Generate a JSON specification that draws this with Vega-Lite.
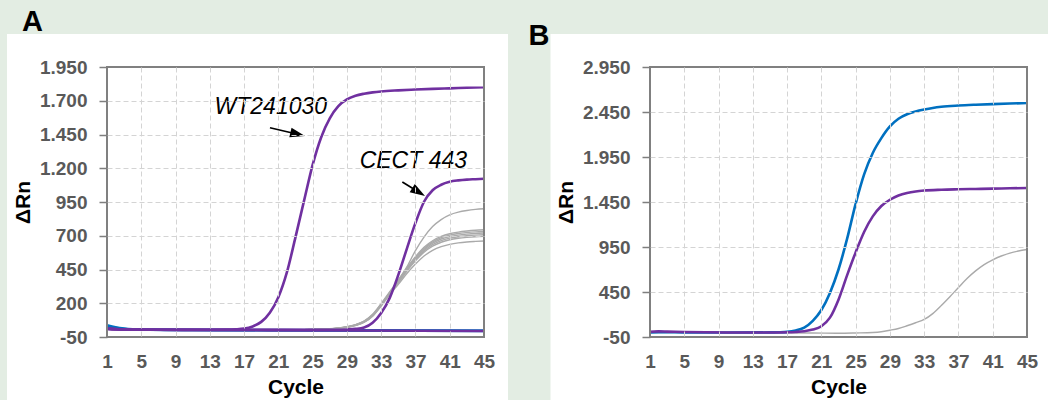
{
"$schema": "https://vega.github.io/schema/vega-lite/v6.json",
"background": "#e3ede3",
"padding": {"left": 7, "top": 7, "right": 0, "bottom": 0},
"spacing": 20,
"config": {
  "view": {"stroke": null},
  "font": "Liberation Sans"
},
"datasets": {
  "curvesA": [
    {"curve":"WT241030","group":"reference","cycle":1,"value":12},{"curve":"WT241030","group":"reference","cycle":2,"value":8},{"curve":"WT241030","group":"reference","cycle":3,"value":6},{"curve":"WT241030","group":"reference","cycle":5,"value":5},{"curve":"WT241030","group":"reference","cycle":9,"value":4},{"curve":"WT241030","group":"reference","cycle":13,"value":4},{"curve":"WT241030","group":"reference","cycle":15,"value":5},{"curve":"WT241030","group":"reference","cycle":16,"value":7},{"curve":"WT241030","group":"reference","cycle":17,"value":12},{"curve":"WT241030","group":"reference","cycle":18,"value":28},{"curve":"WT241030","group":"reference","cycle":19,"value":62},{"curve":"WT241030","group":"reference","cycle":20,"value":130},{"curve":"WT241030","group":"reference","cycle":21,"value":245},{"curve":"WT241030","group":"reference","cycle":22,"value":430},{"curve":"WT241030","group":"reference","cycle":23,"value":690},{"curve":"WT241030","group":"reference","cycle":24,"value":960},{"curve":"WT241030","group":"reference","cycle":25,"value":1225},{"curve":"WT241030","group":"reference","cycle":26,"value":1430},{"curve":"WT241030","group":"reference","cycle":27,"value":1570},{"curve":"WT241030","group":"reference","cycle":28,"value":1660},{"curve":"WT241030","group":"reference","cycle":29,"value":1710},{"curve":"WT241030","group":"reference","cycle":30,"value":1737},{"curve":"WT241030","group":"reference","cycle":31,"value":1752},{"curve":"WT241030","group":"reference","cycle":32,"value":1762},{"curve":"WT241030","group":"reference","cycle":33,"value":1769},{"curve":"WT241030","group":"reference","cycle":35,"value":1777},{"curve":"WT241030","group":"reference","cycle":37,"value":1783},{"curve":"WT241030","group":"reference","cycle":39,"value":1788},{"curve":"WT241030","group":"reference","cycle":41,"value":1792},{"curve":"WT241030","group":"reference","cycle":43,"value":1796},{"curve":"WT241030","group":"reference","cycle":45,"value":1800},
    {"curve":"CECT 443","group":"reference","cycle":1,"value":10},{"curve":"CECT 443","group":"reference","cycle":2,"value":6},{"curve":"CECT 443","group":"reference","cycle":5,"value":4},{"curve":"CECT 443","group":"reference","cycle":10,"value":3},{"curve":"CECT 443","group":"reference","cycle":15,"value":3},{"curve":"CECT 443","group":"reference","cycle":20,"value":3},{"curve":"CECT 443","group":"reference","cycle":25,"value":3},{"curve":"CECT 443","group":"reference","cycle":28,"value":4},{"curve":"CECT 443","group":"reference","cycle":29,"value":6},{"curve":"CECT 443","group":"reference","cycle":30,"value":10},{"curve":"CECT 443","group":"reference","cycle":31,"value":20},{"curve":"CECT 443","group":"reference","cycle":32,"value":55},{"curve":"CECT 443","group":"reference","cycle":33,"value":128},{"curve":"CECT 443","group":"reference","cycle":34,"value":240},{"curve":"CECT 443","group":"reference","cycle":35,"value":410},{"curve":"CECT 443","group":"reference","cycle":36,"value":605},{"curve":"CECT 443","group":"reference","cycle":37,"value":795},{"curve":"CECT 443","group":"reference","cycle":38,"value":952},{"curve":"CECT 443","group":"reference","cycle":39,"value":1037},{"curve":"CECT 443","group":"reference","cycle":40,"value":1078},{"curve":"CECT 443","group":"reference","cycle":41,"value":1100},{"curve":"CECT 443","group":"reference","cycle":42,"value":1110},{"curve":"CECT 443","group":"reference","cycle":43,"value":1116},{"curve":"CECT 443","group":"reference","cycle":44,"value":1119},{"curve":"CECT 443","group":"reference","cycle":45,"value":1122},
    {"curve":"NTC","group":"reference","cycle":1,"value":12},{"curve":"NTC","group":"reference","cycle":2,"value":8},{"curve":"NTC","group":"reference","cycle":3,"value":5},{"curve":"NTC","group":"reference","cycle":10,"value":3},{"curve":"NTC","group":"reference","cycle":20,"value":1},{"curve":"NTC","group":"reference","cycle":30,"value":-2},{"curve":"NTC","group":"reference","cycle":45,"value":-6},
    {"curve":"Control 1","group":"control","cycle":1,"value":38},{"curve":"Control 1","group":"control","cycle":2,"value":22},{"curve":"Control 1","group":"control","cycle":3,"value":12},{"curve":"Control 1","group":"control","cycle":4,"value":7},{"curve":"Control 1","group":"control","cycle":6,"value":4},{"curve":"Control 1","group":"control","cycle":10,"value":2},{"curve":"Control 1","group":"control","cycle":20,"value":0},{"curve":"Control 1","group":"control","cycle":30,"value":-2},{"curve":"Control 1","group":"control","cycle":45,"value":-5},
    {"curve":"Control 2","group":"control","cycle":1,"value":28},{"curve":"Control 2","group":"control","cycle":2,"value":16},{"curve":"Control 2","group":"control","cycle":3,"value":9},{"curve":"Control 2","group":"control","cycle":5,"value":5},{"curve":"Control 2","group":"control","cycle":10,"value":3},{"curve":"Control 2","group":"control","cycle":20,"value":1},{"curve":"Control 2","group":"control","cycle":30,"value":-1},{"curve":"Control 2","group":"control","cycle":45,"value":-4},
    {"curve":"Isolate 1","group":"sample","cycle":1,"value":8},{"curve":"Isolate 1","group":"sample","cycle":3,"value":6},{"curve":"Isolate 1","group":"sample","cycle":5,"value":5},{"curve":"Isolate 1","group":"sample","cycle":10,"value":4},{"curve":"Isolate 1","group":"sample","cycle":15,"value":4},{"curve":"Isolate 1","group":"sample","cycle":20,"value":4},{"curve":"Isolate 1","group":"sample","cycle":24,"value":5},{"curve":"Isolate 1","group":"sample","cycle":26,"value":7},{"curve":"Isolate 1","group":"sample","cycle":27,"value":10},{"curve":"Isolate 1","group":"sample","cycle":28,"value":16},{"curve":"Isolate 1","group":"sample","cycle":29,"value":24},{"curve":"Isolate 1","group":"sample","cycle":30,"value":40},{"curve":"Isolate 1","group":"sample","cycle":31,"value":66},{"curve":"Isolate 1","group":"sample","cycle":32,"value":113},{"curve":"Isolate 1","group":"sample","cycle":33,"value":192},{"curve":"Isolate 1","group":"sample","cycle":34,"value":280},{"curve":"Isolate 1","group":"sample","cycle":35,"value":370},{"curve":"Isolate 1","group":"sample","cycle":36,"value":470},{"curve":"Isolate 1","group":"sample","cycle":37,"value":590},{"curve":"Isolate 1","group":"sample","cycle":38,"value":690},{"curve":"Isolate 1","group":"sample","cycle":39,"value":768},{"curve":"Isolate 1","group":"sample","cycle":40,"value":820},{"curve":"Isolate 1","group":"sample","cycle":41,"value":855},{"curve":"Isolate 1","group":"sample","cycle":42,"value":875},{"curve":"Isolate 1","group":"sample","cycle":43,"value":887},{"curve":"Isolate 1","group":"sample","cycle":44,"value":895},{"curve":"Isolate 1","group":"sample","cycle":45,"value":900},
    {"curve":"Isolate 2","group":"sample","cycle":1,"value":8},{"curve":"Isolate 2","group":"sample","cycle":5,"value":5},{"curve":"Isolate 2","group":"sample","cycle":15,"value":4},{"curve":"Isolate 2","group":"sample","cycle":24,"value":5},{"curve":"Isolate 2","group":"sample","cycle":26,"value":7},{"curve":"Isolate 2","group":"sample","cycle":27,"value":11},{"curve":"Isolate 2","group":"sample","cycle":28,"value":17},{"curve":"Isolate 2","group":"sample","cycle":29,"value":26},{"curve":"Isolate 2","group":"sample","cycle":30,"value":42},{"curve":"Isolate 2","group":"sample","cycle":31,"value":68},{"curve":"Isolate 2","group":"sample","cycle":32,"value":118},{"curve":"Isolate 2","group":"sample","cycle":33,"value":198},{"curve":"Isolate 2","group":"sample","cycle":34,"value":285},{"curve":"Isolate 2","group":"sample","cycle":35,"value":372},{"curve":"Isolate 2","group":"sample","cycle":36,"value":462},{"curve":"Isolate 2","group":"sample","cycle":37,"value":545},{"curve":"Isolate 2","group":"sample","cycle":38,"value":615},{"curve":"Isolate 2","group":"sample","cycle":39,"value":663},{"curve":"Isolate 2","group":"sample","cycle":40,"value":695},{"curve":"Isolate 2","group":"sample","cycle":41,"value":715},{"curve":"Isolate 2","group":"sample","cycle":42,"value":727},{"curve":"Isolate 2","group":"sample","cycle":43,"value":735},{"curve":"Isolate 2","group":"sample","cycle":44,"value":741},{"curve":"Isolate 2","group":"sample","cycle":45,"value":745},
    {"curve":"Isolate 3","group":"sample","cycle":1,"value":7},{"curve":"Isolate 3","group":"sample","cycle":5,"value":5},{"curve":"Isolate 3","group":"sample","cycle":15,"value":4},{"curve":"Isolate 3","group":"sample","cycle":24,"value":5},{"curve":"Isolate 3","group":"sample","cycle":26,"value":7},{"curve":"Isolate 3","group":"sample","cycle":27,"value":10},{"curve":"Isolate 3","group":"sample","cycle":28,"value":15},{"curve":"Isolate 3","group":"sample","cycle":29,"value":23},{"curve":"Isolate 3","group":"sample","cycle":30,"value":38},{"curve":"Isolate 3","group":"sample","cycle":31,"value":62},{"curve":"Isolate 3","group":"sample","cycle":32,"value":110},{"curve":"Isolate 3","group":"sample","cycle":33,"value":188},{"curve":"Isolate 3","group":"sample","cycle":34,"value":277},{"curve":"Isolate 3","group":"sample","cycle":35,"value":365},{"curve":"Isolate 3","group":"sample","cycle":36,"value":456},{"curve":"Isolate 3","group":"sample","cycle":37,"value":537},{"curve":"Isolate 3","group":"sample","cycle":38,"value":606},{"curve":"Isolate 3","group":"sample","cycle":39,"value":654},{"curve":"Isolate 3","group":"sample","cycle":40,"value":686},{"curve":"Isolate 3","group":"sample","cycle":41,"value":705},{"curve":"Isolate 3","group":"sample","cycle":42,"value":717},{"curve":"Isolate 3","group":"sample","cycle":43,"value":724},{"curve":"Isolate 3","group":"sample","cycle":44,"value":729},{"curve":"Isolate 3","group":"sample","cycle":45,"value":732},
    {"curve":"Isolate 4","group":"sample","cycle":1,"value":9},{"curve":"Isolate 4","group":"sample","cycle":5,"value":5},{"curve":"Isolate 4","group":"sample","cycle":15,"value":4},{"curve":"Isolate 4","group":"sample","cycle":24,"value":5},{"curve":"Isolate 4","group":"sample","cycle":26,"value":7},{"curve":"Isolate 4","group":"sample","cycle":27,"value":10},{"curve":"Isolate 4","group":"sample","cycle":28,"value":16},{"curve":"Isolate 4","group":"sample","cycle":29,"value":25},{"curve":"Isolate 4","group":"sample","cycle":30,"value":40},{"curve":"Isolate 4","group":"sample","cycle":31,"value":65},{"curve":"Isolate 4","group":"sample","cycle":32,"value":114},{"curve":"Isolate 4","group":"sample","cycle":33,"value":192},{"curve":"Isolate 4","group":"sample","cycle":34,"value":275},{"curve":"Isolate 4","group":"sample","cycle":35,"value":360},{"curve":"Isolate 4","group":"sample","cycle":36,"value":450},{"curve":"Isolate 4","group":"sample","cycle":37,"value":530},{"curve":"Isolate 4","group":"sample","cycle":38,"value":598},{"curve":"Isolate 4","group":"sample","cycle":39,"value":645},{"curve":"Isolate 4","group":"sample","cycle":40,"value":676},{"curve":"Isolate 4","group":"sample","cycle":41,"value":694},{"curve":"Isolate 4","group":"sample","cycle":42,"value":705},{"curve":"Isolate 4","group":"sample","cycle":43,"value":712},{"curve":"Isolate 4","group":"sample","cycle":44,"value":717},{"curve":"Isolate 4","group":"sample","cycle":45,"value":720},
    {"curve":"Isolate 5","group":"sample","cycle":1,"value":8},{"curve":"Isolate 5","group":"sample","cycle":5,"value":5},{"curve":"Isolate 5","group":"sample","cycle":15,"value":4},{"curve":"Isolate 5","group":"sample","cycle":24,"value":5},{"curve":"Isolate 5","group":"sample","cycle":26,"value":6},{"curve":"Isolate 5","group":"sample","cycle":27,"value":9},{"curve":"Isolate 5","group":"sample","cycle":28,"value":14},{"curve":"Isolate 5","group":"sample","cycle":29,"value":22},{"curve":"Isolate 5","group":"sample","cycle":30,"value":36},{"curve":"Isolate 5","group":"sample","cycle":31,"value":60},{"curve":"Isolate 5","group":"sample","cycle":32,"value":106},{"curve":"Isolate 5","group":"sample","cycle":33,"value":182},{"curve":"Isolate 5","group":"sample","cycle":34,"value":272},{"curve":"Isolate 5","group":"sample","cycle":35,"value":356},{"curve":"Isolate 5","group":"sample","cycle":36,"value":444},{"curve":"Isolate 5","group":"sample","cycle":37,"value":522},{"curve":"Isolate 5","group":"sample","cycle":38,"value":588},{"curve":"Isolate 5","group":"sample","cycle":39,"value":634},{"curve":"Isolate 5","group":"sample","cycle":40,"value":664},{"curve":"Isolate 5","group":"sample","cycle":41,"value":682},{"curve":"Isolate 5","group":"sample","cycle":42,"value":693},{"curve":"Isolate 5","group":"sample","cycle":43,"value":700},{"curve":"Isolate 5","group":"sample","cycle":44,"value":705},{"curve":"Isolate 5","group":"sample","cycle":45,"value":708},
    {"curve":"Isolate 6","group":"sample","cycle":1,"value":8},{"curve":"Isolate 6","group":"sample","cycle":5,"value":5},{"curve":"Isolate 6","group":"sample","cycle":15,"value":4},{"curve":"Isolate 6","group":"sample","cycle":24,"value":5},{"curve":"Isolate 6","group":"sample","cycle":26,"value":7},{"curve":"Isolate 6","group":"sample","cycle":27,"value":10},{"curve":"Isolate 6","group":"sample","cycle":28,"value":15},{"curve":"Isolate 6","group":"sample","cycle":29,"value":24},{"curve":"Isolate 6","group":"sample","cycle":30,"value":38},{"curve":"Isolate 6","group":"sample","cycle":31,"value":62},{"curve":"Isolate 6","group":"sample","cycle":32,"value":108},{"curve":"Isolate 6","group":"sample","cycle":33,"value":185},{"curve":"Isolate 6","group":"sample","cycle":34,"value":270},{"curve":"Isolate 6","group":"sample","cycle":35,"value":352},{"curve":"Isolate 6","group":"sample","cycle":36,"value":438},{"curve":"Isolate 6","group":"sample","cycle":37,"value":514},{"curve":"Isolate 6","group":"sample","cycle":38,"value":578},{"curve":"Isolate 6","group":"sample","cycle":39,"value":623},{"curve":"Isolate 6","group":"sample","cycle":40,"value":652},{"curve":"Isolate 6","group":"sample","cycle":41,"value":670},{"curve":"Isolate 6","group":"sample","cycle":42,"value":681},{"curve":"Isolate 6","group":"sample","cycle":43,"value":688},{"curve":"Isolate 6","group":"sample","cycle":44,"value":693},{"curve":"Isolate 6","group":"sample","cycle":45,"value":696},
    {"curve":"Isolate 7","group":"sample","cycle":1,"value":7},{"curve":"Isolate 7","group":"sample","cycle":5,"value":5},{"curve":"Isolate 7","group":"sample","cycle":15,"value":4},{"curve":"Isolate 7","group":"sample","cycle":24,"value":5},{"curve":"Isolate 7","group":"sample","cycle":26,"value":6},{"curve":"Isolate 7","group":"sample","cycle":27,"value":9},{"curve":"Isolate 7","group":"sample","cycle":28,"value":14},{"curve":"Isolate 7","group":"sample","cycle":29,"value":22},{"curve":"Isolate 7","group":"sample","cycle":30,"value":35},{"curve":"Isolate 7","group":"sample","cycle":31,"value":58},{"curve":"Isolate 7","group":"sample","cycle":32,"value":104},{"curve":"Isolate 7","group":"sample","cycle":33,"value":180},{"curve":"Isolate 7","group":"sample","cycle":34,"value":265},{"curve":"Isolate 7","group":"sample","cycle":35,"value":340},{"curve":"Isolate 7","group":"sample","cycle":36,"value":420},{"curve":"Isolate 7","group":"sample","cycle":37,"value":490},{"curve":"Isolate 7","group":"sample","cycle":38,"value":550},{"curve":"Isolate 7","group":"sample","cycle":39,"value":592},{"curve":"Isolate 7","group":"sample","cycle":40,"value":619},{"curve":"Isolate 7","group":"sample","cycle":41,"value":636},{"curve":"Isolate 7","group":"sample","cycle":42,"value":647},{"curve":"Isolate 7","group":"sample","cycle":43,"value":654},{"curve":"Isolate 7","group":"sample","cycle":44,"value":658},{"curve":"Isolate 7","group":"sample","cycle":45,"value":661}
  ],
  "curvesB": [
    {"curve":"Isolate","group":"sample","cycle":1,"value":0},{"curve":"Isolate","group":"sample","cycle":10,"value":-3},{"curve":"Isolate","group":"sample","cycle":20,"value":-5},{"curve":"Isolate","group":"sample","cycle":23,"value":-8},{"curve":"Isolate","group":"sample","cycle":25,"value":-5},{"curve":"Isolate","group":"sample","cycle":27,"value":0},{"curve":"Isolate","group":"sample","cycle":28,"value":8},{"curve":"Isolate","group":"sample","cycle":29,"value":25},{"curve":"Isolate","group":"sample","cycle":30,"value":45},{"curve":"Isolate","group":"sample","cycle":31,"value":75},{"curve":"Isolate","group":"sample","cycle":32,"value":108},{"curve":"Isolate","group":"sample","cycle":33,"value":145},{"curve":"Isolate","group":"sample","cycle":34,"value":210},{"curve":"Isolate","group":"sample","cycle":35,"value":300},{"curve":"Isolate","group":"sample","cycle":36,"value":398},{"curve":"Isolate","group":"sample","cycle":37,"value":500},{"curve":"Isolate","group":"sample","cycle":38,"value":600},{"curve":"Isolate","group":"sample","cycle":39,"value":685},{"curve":"Isolate","group":"sample","cycle":40,"value":755},{"curve":"Isolate","group":"sample","cycle":41,"value":808},{"curve":"Isolate","group":"sample","cycle":42,"value":850},{"curve":"Isolate","group":"sample","cycle":43,"value":882},{"curve":"Isolate","group":"sample","cycle":44,"value":905},{"curve":"Isolate","group":"sample","cycle":45,"value":922},
    {"curve":"Control","group":"control","cycle":1,"value":0},{"curve":"Control","group":"control","cycle":2,"value":4},{"curve":"Control","group":"control","cycle":3,"value":3},{"curve":"Control","group":"control","cycle":5,"value":1},{"curve":"Control","group":"control","cycle":10,"value":0},{"curve":"Control","group":"control","cycle":15,"value":1},{"curve":"Control","group":"control","cycle":16,"value":3},{"curve":"Control","group":"control","cycle":17,"value":7},{"curve":"Control","group":"control","cycle":18,"value":22},{"curve":"Control","group":"control","cycle":19,"value":55},{"curve":"Control","group":"control","cycle":20,"value":130},{"curve":"Control","group":"control","cycle":21,"value":250},{"curve":"Control","group":"control","cycle":22,"value":440},{"curve":"Control","group":"control","cycle":23,"value":700},{"curve":"Control","group":"control","cycle":24,"value":1040},{"curve":"Control","group":"control","cycle":25,"value":1430},{"curve":"Control","group":"control","cycle":26,"value":1760},{"curve":"Control","group":"control","cycle":27,"value":1995},{"curve":"Control","group":"control","cycle":28,"value":2160},{"curve":"Control","group":"control","cycle":29,"value":2290},{"curve":"Control","group":"control","cycle":30,"value":2375},{"curve":"Control","group":"control","cycle":31,"value":2425},{"curve":"Control","group":"control","cycle":32,"value":2455},{"curve":"Control","group":"control","cycle":33,"value":2477},{"curve":"Control","group":"control","cycle":34,"value":2495},{"curve":"Control","group":"control","cycle":35,"value":2508},{"curve":"Control","group":"control","cycle":37,"value":2522},{"curve":"Control","group":"control","cycle":39,"value":2531},{"curve":"Control","group":"control","cycle":41,"value":2538},{"curve":"Control","group":"control","cycle":43,"value":2544},{"curve":"Control","group":"control","cycle":45,"value":2550},
    {"curve":"Reference","group":"reference","cycle":1,"value":8},{"curve":"Reference","group":"reference","cycle":2,"value":12},{"curve":"Reference","group":"reference","cycle":3,"value":10},{"curve":"Reference","group":"reference","cycle":5,"value":5},{"curve":"Reference","group":"reference","cycle":10,"value":0},{"curve":"Reference","group":"reference","cycle":15,"value":0},{"curve":"Reference","group":"reference","cycle":17,"value":2},{"curve":"Reference","group":"reference","cycle":18,"value":6},{"curve":"Reference","group":"reference","cycle":19,"value":14},{"curve":"Reference","group":"reference","cycle":20,"value":32},{"curve":"Reference","group":"reference","cycle":21,"value":70},{"curve":"Reference","group":"reference","cycle":22,"value":165},{"curve":"Reference","group":"reference","cycle":23,"value":365},{"curve":"Reference","group":"reference","cycle":24,"value":635},{"curve":"Reference","group":"reference","cycle":25,"value":890},{"curve":"Reference","group":"reference","cycle":26,"value":1120},{"curve":"Reference","group":"reference","cycle":27,"value":1290},{"curve":"Reference","group":"reference","cycle":28,"value":1405},{"curve":"Reference","group":"reference","cycle":29,"value":1475},{"curve":"Reference","group":"reference","cycle":30,"value":1522},{"curve":"Reference","group":"reference","cycle":31,"value":1550},{"curve":"Reference","group":"reference","cycle":32,"value":1567},{"curve":"Reference","group":"reference","cycle":33,"value":1577},{"curve":"Reference","group":"reference","cycle":35,"value":1586},{"curve":"Reference","group":"reference","cycle":37,"value":1591},{"curve":"Reference","group":"reference","cycle":39,"value":1595},{"curve":"Reference","group":"reference","cycle":41,"value":1599},{"curve":"Reference","group":"reference","cycle":43,"value":1602},{"curve":"Reference","group":"reference","cycle":45,"value":1606}
  ]
},
"hconcat": [
{
  "width": 377, "height": 270,
  "layer": [
    {"data": {"values": [{}]}, "mark": {"type": "rect", "fill": "#ffffff"},
     "encoding": {"x": {"datum": -10.671}, "x2": {"datum": 47.80}, "y": {"datum": 2194.4}, "y2": {"datum": -516.7}}},
    {"data": {"name": "curvesA"}, "transform": [{"filter": "datum.group === 'sample'"}], "mark": {"type": "line", "interpolate": "monotone", "color": "#aaaaaa", "strokeWidth": 1.4},
     "encoding": {
       "x": {"field": "cycle", "type": "quantitative", "scale": {"domain": [1, 45], "nice": false, "zero": false},
             "axis": {"title": "Cycle", "zindex": 1, "values": [1,5,9,13,17,21,25,29,33,37,41,45], "tickCount": 50, "ticks": false, "domain": false, "labelPadding": 15, "titlePadding": 5,
                      "labelOverlap": false, "labelFlush": false, "labelBound": false, "labelFont": "Liberation Sans", "labelFontSize": 19, "labelFontWeight": "bold", "labelColor": "#595959",
                      "titleFont": "Liberation Sans", "titleFontSize": 21, "titleFontWeight": "bold", "titleColor": "#000000",
                      "grid": true, "gridColor": "#d4d4d4", "gridDash": [5, 3], "gridWidth": 1,
                      "gridOpacity": {"condition": {"test": "datum.value === 1 || datum.value === 45", "value": 0}, "value": 1}}},
       "y": {"field": "value", "type": "quantitative", "scale": {"domain": [-50, 1950], "nice": false, "zero": false},
             "axis": {"title": "ΔRn", "zindex": 1, "values": [-50,200,450,700,950,1200,1450,1700,1950], "tickCount": 50, "tickSize": 8, "tickColor": "#7f7f7f", "tickWidth": 1.5, "domain": false, "labelPadding": 12, "titlePadding": 6,
                      "labelOverlap": false, "labelFlush": false, "labelBound": false, "labelFont": "Liberation Sans", "labelFontSize": 19, "labelFontWeight": "bold", "labelColor": "#595959",
                      "titleFont": "Liberation Sans", "titleFontSize": 21, "titleFontWeight": "bold", "titleColor": "#000000",
                      "grid": true, "gridColor": "#d4d4d4", "gridDash": [5, 3], "gridWidth": 1,
                      "labelExpr": "replace(replace(format(datum.value, ','), ',', '.'), '−', '-')",
                      "gridOpacity": {"condition": {"test": "datum.value === -50 || datum.value === 1950", "value": 0}, "value": 1}}},
       "detail": {"field": "curve"}}},
    {"data": {"name": "curvesA"}, "transform": [{"filter": "datum.group === 'control'"}], "mark": {"type": "line", "interpolate": "monotone", "color": "#0070c0", "strokeWidth": 2.6},
     "encoding": {"x": {"field": "cycle", "type": "quantitative"}, "y": {"field": "value", "type": "quantitative"}, "detail": {"field": "curve"}}},
    {"data": {"name": "curvesA"}, "transform": [{"filter": "datum.group === 'reference'"}], "mark": {"type": "line", "interpolate": "monotone", "color": "#7030a0", "strokeWidth": 2.6},
     "encoding": {"x": {"field": "cycle", "type": "quantitative"}, "y": {"field": "value", "type": "quantitative"}, "detail": {"field": "curve"}}},
    {"data": {"values": [{}]}, "mark": {"type": "rect", "filled": false, "stroke": "#808080", "strokeWidth": 2},
     "encoding": {"x": {"datum": 1}, "x2": {"datum": 45}, "y": {"datum": -50}, "y2": {"datum": 1950}}},
    {"data": {"values": [{}]}, "mark": {"type": "text", "text": "WT241030", "font": "Liberation Sans", "fontSize": 23, "fontStyle": "italic", "color": "#000000", "align": "center", "baseline": "alphabetic"},
     "encoding": {"x": {"datum": 20.12}, "y": {"datum": 1600}}},
    {"data": {"values": [{}]}, "mark": {"type": "text", "text": "CECT 443", "font": "Liberation Sans", "fontSize": 23, "fontStyle": "italic", "color": "#000000", "align": "center", "baseline": "alphabetic"},
     "encoding": {"x": {"datum": 36.75}, "y": {"datum": 1204}}},
    {"data": {"values": [{}]}, "mark": {"type": "rule", "color": "#000000", "strokeWidth": 1.7},
     "encoding": {"x": {"datum": 20.02}, "y": {"datum": 1500}, "x2": {"datum": 23.26}, "y2": {"datum": 1451.5}}},
    {"data": {"values": [{}]}, "mark": {"type": "point", "shape": "M1,0L-1,-0.65L-1,0.65Z", "size": 225, "angle": 13.3, "filled": true, "fill": "#000000", "opacity": 1, "strokeWidth": 0},
     "encoding": {"x": {"datum": 23.26}, "y": {"datum": 1451.5}}},
    {"data": {"values": [{}]}, "mark": {"type": "rule", "color": "#000000", "strokeWidth": 1.7},
     "encoding": {"x": {"datum": 35.47}, "y": {"datum": 1098}, "x2": {"datum": 37.37}, "y2": {"datum": 1023.4}}},
    {"data": {"values": [{}]}, "mark": {"type": "point", "shape": "M1,0L-1,-0.65L-1,0.65Z", "size": 225, "angle": 31.7, "filled": true, "fill": "#000000", "opacity": 1, "strokeWidth": 0},
     "encoding": {"x": {"datum": 37.37}, "y": {"datum": 1023.4}}},
    {"data": {"values": [{}]}, "mark": {"type": "text", "text": "A", "font": "Liberation Sans", "fontSize": 29, "fontWeight": "bold", "color": "#000000", "align": "left", "baseline": "alphabetic"},
     "encoding": {"x": {"datum": -8.92}, "y": {"datum": 2216.7}}}
  ]
},
{
  "width": 377, "height": 270,
  "layer": [
    {"data": {"values": [{}]}, "mark": {"type": "rect", "fill": "#ffffff"},
     "encoding": {"x": {"datum": -10.613}, "x2": {"datum": 47.45}, "y": {"datum": 3316.7}, "y2": {"datum": -761}}},
    {"data": {"name": "curvesB"}, "transform": [{"filter": "datum.group === 'sample'"}], "mark": {"type": "line", "interpolate": "monotone", "color": "#aaaaaa", "strokeWidth": 1.4},
     "encoding": {
       "x": {"field": "cycle", "type": "quantitative", "scale": {"domain": [1, 45], "nice": false, "zero": false},
             "axis": {"title": "Cycle", "zindex": 1, "values": [1,5,9,13,17,21,25,29,33,37,41,45], "tickCount": 50, "ticks": false, "domain": false, "labelPadding": 15, "titlePadding": 5,
                      "labelOverlap": false, "labelFlush": false, "labelBound": false, "labelFont": "Liberation Sans", "labelFontSize": 19, "labelFontWeight": "bold", "labelColor": "#595959",
                      "titleFont": "Liberation Sans", "titleFontSize": 21, "titleFontWeight": "bold", "titleColor": "#000000",
                      "grid": true, "gridColor": "#d4d4d4", "gridDash": [5, 3], "gridWidth": 1,
                      "gridOpacity": {"condition": {"test": "datum.value === 1 || datum.value === 45", "value": 0}, "value": 1}}},
       "y": {"field": "value", "type": "quantitative", "scale": {"domain": [-50, 2950], "nice": false, "zero": false},
             "axis": {"title": "ΔRn", "zindex": 1, "values": [-50,450,950,1450,1950,2450,2950], "tickCount": 50, "tickSize": 8, "tickColor": "#7f7f7f", "tickWidth": 1.5, "domain": false, "labelPadding": 12, "titlePadding": 6,
                      "labelOverlap": false, "labelFlush": false, "labelBound": false, "labelFont": "Liberation Sans", "labelFontSize": 19, "labelFontWeight": "bold", "labelColor": "#595959",
                      "titleFont": "Liberation Sans", "titleFontSize": 21, "titleFontWeight": "bold", "titleColor": "#000000",
                      "grid": true, "gridColor": "#d4d4d4", "gridDash": [5, 3], "gridWidth": 1,
                      "labelExpr": "replace(replace(format(datum.value, ','), ',', '.'), '−', '-')",
                      "gridOpacity": {"condition": {"test": "datum.value === -50 || datum.value === 2950", "value": 0}, "value": 1}}},
       "detail": {"field": "curve"}}},
    {"data": {"name": "curvesB"}, "transform": [{"filter": "datum.group === 'control'"}], "mark": {"type": "line", "interpolate": "monotone", "color": "#0070c0", "strokeWidth": 2.6},
     "encoding": {"x": {"field": "cycle", "type": "quantitative"}, "y": {"field": "value", "type": "quantitative"}, "detail": {"field": "curve"}}},
    {"data": {"name": "curvesB"}, "transform": [{"filter": "datum.group === 'reference'"}], "mark": {"type": "line", "interpolate": "monotone", "color": "#7030a0", "strokeWidth": 2.6},
     "encoding": {"x": {"field": "cycle", "type": "quantitative"}, "y": {"field": "value", "type": "quantitative"}, "detail": {"field": "curve"}}},
    {"data": {"values": [{}]}, "mark": {"type": "rect", "filled": false, "stroke": "#808080", "strokeWidth": 2},
     "encoding": {"x": {"datum": 1}, "x2": {"datum": 45}, "y": {"datum": -50}, "y2": {"datum": 2950}}},
    {"data": {"values": [{}]}, "mark": {"type": "text", "text": "B", "font": "Liberation Sans", "fontSize": 29, "fontWeight": "bold", "color": "#000000", "align": "left", "baseline": "alphabetic"},
     "encoding": {"x": {"datum": -13.18}, "y": {"datum": 3194.4}}}
  ]
}
]
}
